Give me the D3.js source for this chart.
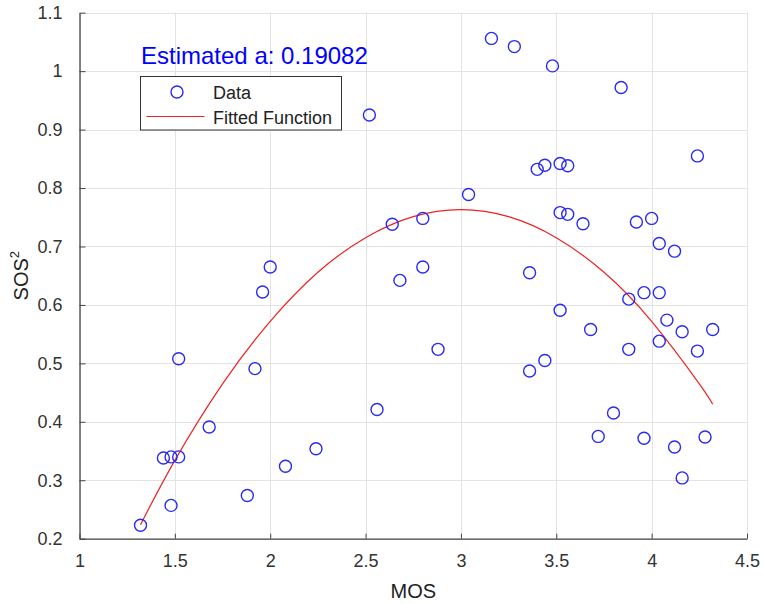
<!DOCTYPE html>
<html>
<head>
<meta charset="utf-8">
<script src="https://cdn.jsdelivr.net/npm/d3@7"></script>
<style>
  html, body { margin: 0; padding: 0; background: #fff; }
  svg { display: block; font-family: "Liberation Sans", Arial, Helvetica, sans-serif; }
</style>
</head>
<body>
<svg id="chart" width="764" height="604"></svg>
<script>
// ---- data ----
const mosValues = [2.52, 2.00, 1.96, 3.16, 3.28, 3.48, 3.84, 4.24, 3.40, 3.44, 3.52, 3.56,
  3.04, 2.64, 2.80, 3.52, 3.56, 3.64, 3.92, 4.00, 4.04, 4.12, 2.80, 2.68, 3.36, 3.88, 3.96, 4.04,
  1.52, 1.92, 2.56, 1.68, 1.44, 1.48, 1.52, 2.24, 2.08, 1.88, 1.48, 1.32,
  2.88, 3.52, 3.68, 4.08, 4.16, 4.32, 4.04, 3.88, 4.24, 3.36, 3.44, 3.80, 3.72, 3.96, 4.12, 4.28, 4.16];
const sosValues = [0.925, 0.665, 0.622, 1.056, 1.042, 1.009, 0.972, 0.855, 0.832, 0.839, 0.842, 0.838,
  0.789, 0.738, 0.748, 0.758, 0.755, 0.739, 0.742, 0.748, 0.705, 0.692, 0.665, 0.642, 0.655, 0.610, 0.621, 0.621,
  0.508, 0.491, 0.421, 0.391, 0.338, 0.340, 0.340, 0.354, 0.324, 0.274, 0.257, 0.223,
  0.524, 0.591, 0.558, 0.574, 0.554, 0.558, 0.538, 0.524, 0.521, 0.487, 0.505, 0.415, 0.375, 0.372, 0.357, 0.374, 0.304];
// fitted curve, sampled along the drawn red line
const fitX = [1.32, 1.50, 1.75, 2.00, 2.25, 2.50, 2.75, 3.00, 3.25, 3.50, 3.75, 4.00, 4.25, 4.32];
const fitY = [0.224, 0.334, 0.465, 0.572, 0.656, 0.715, 0.751, 0.763, 0.751, 0.715, 0.656, 0.572, 0.465, 0.430];
const xTicks = [1, 1.5, 2, 2.5, 3, 3.5, 4, 4.5];
const yTicks = [0.2, 0.3, 0.4, 0.5, 0.6, 0.7, 0.8, 0.9, 1, 1.1];
const annotation = "Estimated a: 0.19082";
const legendLabels = ["Data", "Fitted Function"];

// ---- layout ----
const L = 79.5, R = 747, T = 12.7, B = 538.7;
const svg = d3.select("#chart");
const x = d3.scaleLinear().domain([1, 4.5]).range([L, R]);
const y = d3.scaleLinear().domain([0.2, 1.1]).range([B, T]);
const axisCol = "#333";
const gridCol = "#e3e3e3";

// grid
const grid = svg.append("g");
grid.selectAll("line.gx").data(xTicks).join("line")
  .attr("x1", d => Math.round(x(d)) + 0.5).attr("x2", d => Math.round(x(d)) + 0.5)
  .attr("y1", T).attr("y2", B).attr("stroke", gridCol).attr("stroke-width", 1);
grid.selectAll("line.gy").data(yTicks).join("line")
  .attr("y1", d => Math.round(y(d)) + 0.5).attr("y2", d => Math.round(y(d)) + 0.5)
  .attr("x1", L).attr("x2", R).attr("stroke", gridCol).attr("stroke-width", 1);

// axes
const fmt = d => String(d);
const xAxis = svg.append("g").attr("transform", `translate(0,${B})`)
  .call(d3.axisBottom(x).tickValues(xTicks).tickFormat(fmt).tickSizeInner(-5).tickSizeOuter(0).tickPadding(16));
const yAxis = svg.append("g").attr("transform", `translate(${L},0)`)
  .call(d3.axisLeft(y).tickValues(yTicks).tickFormat(fmt).tickSizeInner(-6).tickSizeOuter(0).tickPadding(17));
[xAxis, yAxis].forEach(g => {
  g.select(".domain").attr("stroke", "#444").attr("stroke-width", 1.3);
  g.selectAll(".tick line").attr("stroke", "#444").attr("stroke-width", 1);
  g.selectAll(".tick text").attr("fill", axisCol).attr("font-size", 18)
    .attr("font-family", "'Liberation Sans', Arial, sans-serif");
});

// fitted curve
const pts = fitX.map((d, i) => [d, fitY[i]]);
svg.append("path").datum(pts)
  .attr("d", d3.line().x(d => x(d[0])).y(d => y(d[1])).curve(d3.curveNatural))
  .attr("fill", "none").attr("stroke", "#ee2222").attr("stroke-width", 1.2);

// data points
const data = mosValues.map((d, i) => ({ m: d, s: sosValues[i] }));
svg.append("g").selectAll("circle").data(data).join("circle")
  .attr("cx", d => x(d.m)).attr("cy", d => y(d.s)).attr("r", 6)
  .attr("fill", "none").attr("stroke", "#2a2af0").attr("stroke-width", 1.4);

// annotation
svg.append("text").attr("x", 141).attr("y", 64).attr("fill", "#0000ff")
  .attr("font-size", 24).text(annotation);

// legend
const lg = svg.append("g");
lg.append("rect").attr("x", 140.5).attr("y", 76.5).attr("width", 201).attr("height", 53.5)
  .attr("fill", "#fff").attr("stroke", "#333").attr("stroke-width", 1);
lg.append("circle").attr("cx", 177).attr("cy", 92).attr("r", 6)
  .attr("fill", "none").attr("stroke", "#2a2af0").attr("stroke-width", 1.4);
lg.append("line").attr("x1", 146.5).attr("x2", 204.5).attr("y1", 116.5).attr("y2", 116.5)
  .attr("stroke", "#ee2222").attr("stroke-width", 1.2);
lg.selectAll("text").data(legendLabels).join("text")
  .attr("x", 213).attr("y", (d, i) => 98.5 + i * 25).attr("font-size", 18).attr("fill", "#222")
  .text(d => d);

// axis labels
svg.append("text").attr("x", (L + R) / 2).attr("y", 598).attr("text-anchor", "middle")
  .attr("font-size", 20).attr("fill", "#222").text("MOS");
const yl = svg.append("text").attr("transform", `translate(28,${(T + B) / 2}) rotate(-90)`)
  .attr("text-anchor", "middle").attr("font-size", 20).attr("fill", "#222");
yl.append("tspan").text("SOS");
yl.append("tspan").attr("font-size", 13).attr("dy", -9).text("2");
</script>
</body>
</html>
